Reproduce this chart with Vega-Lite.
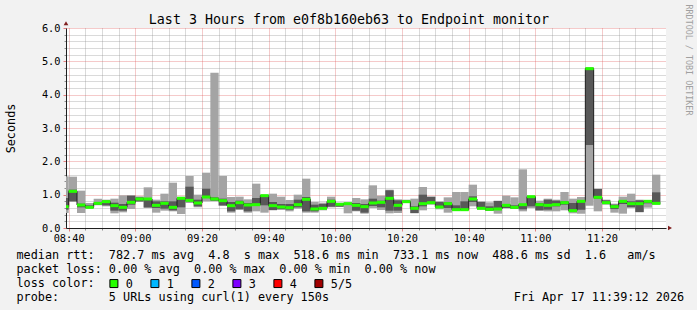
{
  "$schema": "https://vega.github.io/schema/vega-lite/v6.json",
  "width": 600,
  "height": 200,
  "autosize": {"type": "none"},
  "padding": {"left": 66, "top": 28, "right": 31, "bottom": 82},
  "background": "#f2f2f2",
  "config": {
    "font": "DejaVu Sans Mono",
    "view": {"fill": "#ffffff", "stroke": null},
    "axis": {"labelFont": "DejaVu Sans Mono", "titleFont": "DejaVu Sans Mono", "labelColor": "#000000", "titleColor": "#000000", "titleFontWeight": "normal"}
  },
  "datasets": {
    "smoke": [
      {"t": "2026-04-17T08:37:30Z", "t2": "2026-04-17T08:40:00Z", "min": 0.45, "p2": 0.55, "med": 0.64, "p4": 0.90, "max": 1.55, "loss": "0"},
      {"t": "2026-04-17T08:40:00Z", "t2": "2026-04-17T08:42:30Z", "min": 0.79, "p2": 0.80, "med": 1.10, "p4": 1.15, "max": 1.54, "loss": "0"},
      {"t": "2026-04-17T08:42:30Z", "t2": "2026-04-17T08:45:00Z", "min": 0.45, "p2": 0.62, "med": 0.69, "p4": 0.73, "max": 1.12, "loss": "0"},
      {"t": "2026-04-17T08:45:00Z", "t2": "2026-04-17T08:47:30Z", "min": 0.58, "p2": 0.60, "med": 0.62, "p4": 0.68, "max": 0.75, "loss": "0"},
      {"t": "2026-04-17T08:47:30Z", "t2": "2026-04-17T08:50:00Z", "min": 0.68, "p2": 0.70, "med": 0.74, "p4": 0.76, "max": 0.88, "loss": "0"},
      {"t": "2026-04-17T08:50:00Z", "t2": "2026-04-17T08:52:30Z", "min": 0.65, "p2": 0.68, "med": 0.79, "p4": 0.82, "max": 0.85, "loss": "0"},
      {"t": "2026-04-17T08:52:30Z", "t2": "2026-04-17T08:55:00Z", "min": 0.44, "p2": 0.52, "med": 0.67, "p4": 0.76, "max": 0.88, "loss": "0"},
      {"t": "2026-04-17T08:55:00Z", "t2": "2026-04-17T08:57:30Z", "min": 0.47, "p2": 0.52, "med": 0.62, "p4": 0.72, "max": 0.98, "loss": "0"},
      {"t": "2026-04-17T08:57:30Z", "t2": "2026-04-17T09:00:00Z", "min": 0.57, "p2": 0.70, "med": 0.77, "p4": 0.97, "max": 0.98, "loss": "0"},
      {"t": "2026-04-17T09:00:00Z", "t2": "2026-04-17T09:02:30Z", "min": 0.78, "p2": 0.80, "med": 0.87, "p4": 0.92, "max": 0.95, "loss": "0"},
      {"t": "2026-04-17T09:02:30Z", "t2": "2026-04-17T09:05:00Z", "min": 0.60, "p2": 0.62, "med": 0.87, "p4": 0.88, "max": 1.22, "loss": "0"},
      {"t": "2026-04-17T09:05:00Z", "t2": "2026-04-17T09:07:30Z", "min": 0.46, "p2": 0.60, "med": 0.68, "p4": 0.80, "max": 0.85, "loss": "0"},
      {"t": "2026-04-17T09:07:30Z", "t2": "2026-04-17T09:10:00Z", "min": 0.52, "p2": 0.58, "med": 0.74, "p4": 0.80, "max": 1.03, "loss": "0"},
      {"t": "2026-04-17T09:10:00Z", "t2": "2026-04-17T09:12:30Z", "min": 0.50, "p2": 0.53, "med": 0.62, "p4": 0.80, "max": 1.36, "loss": "0"},
      {"t": "2026-04-17T09:12:30Z", "t2": "2026-04-17T09:15:00Z", "min": 0.42, "p2": 0.62, "med": 0.89, "p4": 0.92, "max": 0.94, "loss": "0"},
      {"t": "2026-04-17T09:15:00Z", "t2": "2026-04-17T09:17:30Z", "min": 0.75, "p2": 0.80, "med": 0.83, "p4": 1.24, "max": 1.56, "loss": "0"},
      {"t": "2026-04-17T09:17:30Z", "t2": "2026-04-17T09:20:00Z", "min": 0.62, "p2": 0.65, "med": 0.75, "p4": 0.85, "max": 1.00, "loss": "0"},
      {"t": "2026-04-17T09:20:00Z", "t2": "2026-04-17T09:22:30Z", "min": 0.80, "p2": 0.90, "med": 0.93, "p4": 1.18, "max": 1.66, "loss": "0"},
      {"t": "2026-04-17T09:22:30Z", "t2": "2026-04-17T09:25:00Z", "min": 0.80, "p2": 0.82, "med": 0.87, "p4": 0.92, "max": 4.66, "loss": "0"},
      {"t": "2026-04-17T09:25:00Z", "t2": "2026-04-17T09:27:30Z", "min": 0.66, "p2": 0.68, "med": 0.82, "p4": 0.88, "max": 1.56, "loss": "0"},
      {"t": "2026-04-17T09:27:30Z", "t2": "2026-04-17T09:30:00Z", "min": 0.46, "p2": 0.50, "med": 0.67, "p4": 0.78, "max": 0.93, "loss": "0"},
      {"t": "2026-04-17T09:30:00Z", "t2": "2026-04-17T09:32:30Z", "min": 0.55, "p2": 0.56, "med": 0.76, "p4": 0.82, "max": 0.94, "loss": "0"},
      {"t": "2026-04-17T09:32:30Z", "t2": "2026-04-17T09:35:00Z", "min": 0.46, "p2": 0.50, "med": 0.69, "p4": 0.75, "max": 0.86, "loss": "0"},
      {"t": "2026-04-17T09:35:00Z", "t2": "2026-04-17T09:37:30Z", "min": 0.50, "p2": 0.68, "med": 0.70, "p4": 0.90, "max": 1.33, "loss": "0"},
      {"t": "2026-04-17T09:37:30Z", "t2": "2026-04-17T09:40:00Z", "min": 0.46, "p2": 0.68, "med": 0.97, "p4": 0.98, "max": 1.00, "loss": "0"},
      {"t": "2026-04-17T09:40:00Z", "t2": "2026-04-17T09:42:30Z", "min": 0.53, "p2": 0.54, "med": 0.67, "p4": 0.78, "max": 1.03, "loss": "0"},
      {"t": "2026-04-17T09:42:30Z", "t2": "2026-04-17T09:45:00Z", "min": 0.54, "p2": 0.57, "med": 0.63, "p4": 0.72, "max": 0.94, "loss": "0"},
      {"t": "2026-04-17T09:45:00Z", "t2": "2026-04-17T09:47:30Z", "min": 0.50, "p2": 0.55, "med": 0.61, "p4": 0.72, "max": 0.84, "loss": "0"},
      {"t": "2026-04-17T09:47:30Z", "t2": "2026-04-17T09:50:00Z", "min": 0.58, "p2": 0.62, "med": 0.70, "p4": 0.85, "max": 1.00, "loss": "0"},
      {"t": "2026-04-17T09:50:00Z", "t2": "2026-04-17T09:52:30Z", "min": 0.46, "p2": 0.50, "med": 0.86, "p4": 0.93, "max": 1.48, "loss": "0"},
      {"t": "2026-04-17T09:52:30Z", "t2": "2026-04-17T09:55:00Z", "min": 0.46, "p2": 0.50, "med": 0.57, "p4": 0.70, "max": 0.78, "loss": "0"},
      {"t": "2026-04-17T09:55:00Z", "t2": "2026-04-17T09:57:30Z", "min": 0.53, "p2": 0.57, "med": 0.59, "p4": 0.72, "max": 0.76, "loss": "0"},
      {"t": "2026-04-17T09:57:30Z", "t2": "2026-04-17T10:00:00Z", "min": 0.62, "p2": 0.64, "med": 0.80, "p4": 0.85, "max": 0.94, "loss": "0"},
      {"t": "2026-04-17T10:00:00Z", "t2": "2026-04-17T10:02:30Z", "min": 0.63, "p2": 0.64, "med": 0.71, "p4": 0.72, "max": 0.76, "loss": "0"},
      {"t": "2026-04-17T10:02:30Z", "t2": "2026-04-17T10:05:00Z", "min": 0.44, "p2": 0.72, "med": 0.73, "p4": 0.75, "max": 0.77, "loss": "0"},
      {"t": "2026-04-17T10:05:00Z", "t2": "2026-04-17T10:07:30Z", "min": 0.50, "p2": 0.52, "med": 0.68, "p4": 0.75, "max": 0.90, "loss": "0"},
      {"t": "2026-04-17T10:07:30Z", "t2": "2026-04-17T10:10:00Z", "min": 0.43, "p2": 0.46, "med": 0.64, "p4": 0.72, "max": 0.86, "loss": "0"},
      {"t": "2026-04-17T10:10:00Z", "t2": "2026-04-17T10:12:30Z", "min": 0.60, "p2": 0.66, "med": 0.75, "p4": 0.88, "max": 1.28, "loss": "0"},
      {"t": "2026-04-17T10:12:30Z", "t2": "2026-04-17T10:15:00Z", "min": 0.54, "p2": 0.62, "med": 0.77, "p4": 0.82, "max": 0.97, "loss": "0"},
      {"t": "2026-04-17T10:15:00Z", "t2": "2026-04-17T10:17:30Z", "min": 0.44, "p2": 0.52, "med": 0.89, "p4": 1.13, "max": 1.15, "loss": "0"},
      {"t": "2026-04-17T10:17:30Z", "t2": "2026-04-17T10:20:00Z", "min": 0.45, "p2": 0.52, "med": 0.68, "p4": 0.83, "max": 0.86, "loss": "0"},
      {"t": "2026-04-17T10:20:00Z", "t2": "2026-04-17T10:22:30Z", "min": 0.75, "p2": 0.77, "med": 0.79, "p4": 0.82, "max": 0.85, "loss": "0"},
      {"t": "2026-04-17T10:22:30Z", "t2": "2026-04-17T10:25:00Z", "min": 0.44, "p2": 0.45, "med": 0.59, "p4": 0.65, "max": 0.88, "loss": "0"},
      {"t": "2026-04-17T10:25:00Z", "t2": "2026-04-17T10:27:30Z", "min": 0.53, "p2": 0.65, "med": 0.73, "p4": 1.00, "max": 1.23, "loss": "0"},
      {"t": "2026-04-17T10:27:30Z", "t2": "2026-04-17T10:30:00Z", "min": 0.70, "p2": 0.72, "med": 0.76, "p4": 0.93, "max": 0.95, "loss": "0"},
      {"t": "2026-04-17T10:30:00Z", "t2": "2026-04-17T10:32:30Z", "min": 0.56, "p2": 0.60, "med": 0.63, "p4": 0.78, "max": 0.80, "loss": "0"},
      {"t": "2026-04-17T10:32:30Z", "t2": "2026-04-17T10:35:00Z", "min": 0.46, "p2": 0.60, "med": 0.73, "p4": 0.77, "max": 0.92, "loss": "0"},
      {"t": "2026-04-17T10:35:00Z", "t2": "2026-04-17T10:37:30Z", "min": 0.53, "p2": 0.53, "med": 0.55, "p4": 0.68, "max": 1.08, "loss": "0"},
      {"t": "2026-04-17T10:37:30Z", "t2": "2026-04-17T10:40:00Z", "min": 0.52, "p2": 0.53, "med": 0.55, "p4": 0.80, "max": 1.08, "loss": "0"},
      {"t": "2026-04-17T10:40:00Z", "t2": "2026-04-17T10:42:30Z", "min": 0.65, "p2": 0.78, "med": 0.87, "p4": 0.95, "max": 1.30, "loss": "0"},
      {"t": "2026-04-17T10:42:30Z", "t2": "2026-04-17T10:45:00Z", "min": 0.55, "p2": 0.57, "med": 0.59, "p4": 0.78, "max": 0.80, "loss": "0"},
      {"t": "2026-04-17T10:45:00Z", "t2": "2026-04-17T10:47:30Z", "min": 0.51, "p2": 0.52, "med": 0.56, "p4": 0.65, "max": 0.77, "loss": "0"},
      {"t": "2026-04-17T10:47:30Z", "t2": "2026-04-17T10:50:00Z", "min": 0.43, "p2": 0.55, "med": 0.57, "p4": 0.81, "max": 0.82, "loss": "0"},
      {"t": "2026-04-17T10:50:00Z", "t2": "2026-04-17T10:52:30Z", "min": 0.59, "p2": 0.60, "med": 0.68, "p4": 0.72, "max": 0.97, "loss": "0"},
      {"t": "2026-04-17T10:52:30Z", "t2": "2026-04-17T10:55:00Z", "min": 0.57, "p2": 0.58, "med": 0.62, "p4": 0.68, "max": 0.92, "loss": "0"},
      {"t": "2026-04-17T10:55:00Z", "t2": "2026-04-17T10:57:30Z", "min": 0.50, "p2": 0.56, "med": 0.70, "p4": 0.72, "max": 1.76, "loss": "0"},
      {"t": "2026-04-17T10:57:30Z", "t2": "2026-04-17T11:00:00Z", "min": 0.60, "p2": 0.65, "med": 0.94, "p4": 0.94, "max": 0.95, "loss": "0"},
      {"t": "2026-04-17T11:00:00Z", "t2": "2026-04-17T11:02:30Z", "min": 0.52, "p2": 0.53, "med": 0.70, "p4": 0.75, "max": 0.82, "loss": "0"},
      {"t": "2026-04-17T11:02:30Z", "t2": "2026-04-17T11:05:00Z", "min": 0.50, "p2": 0.55, "med": 0.68, "p4": 0.85, "max": 0.88, "loss": "0"},
      {"t": "2026-04-17T11:05:00Z", "t2": "2026-04-17T11:07:30Z", "min": 0.50, "p2": 0.65, "med": 0.70, "p4": 0.82, "max": 0.85, "loss": "0"},
      {"t": "2026-04-17T11:07:30Z", "t2": "2026-04-17T11:10:00Z", "min": 0.53, "p2": 0.70, "med": 0.76, "p4": 0.80, "max": 1.08, "loss": "0"},
      {"t": "2026-04-17T11:10:00Z", "t2": "2026-04-17T11:12:30Z", "min": 0.44, "p2": 0.50, "med": 0.52, "p4": 0.75, "max": 0.88, "loss": "0"},
      {"t": "2026-04-17T11:12:30Z", "t2": "2026-04-17T11:15:00Z", "min": 0.43, "p2": 0.55, "med": 0.80, "p4": 0.82, "max": 0.93, "loss": "0"},
      {"t": "2026-04-17T11:15:00Z", "t2": "2026-04-17T11:17:30Z", "min": 0.67, "p2": 2.49, "med": 4.78, "p4": 4.80, "max": 4.82, "loss": "0"},
      {"t": "2026-04-17T11:17:30Z", "t2": "2026-04-17T11:20:00Z", "min": 0.50, "p2": 0.88, "med": 0.92, "p4": 1.17, "max": 1.18, "loss": "0"},
      {"t": "2026-04-17T11:20:00Z", "t2": "2026-04-17T11:22:30Z", "min": 0.70, "p2": 0.72, "med": 0.76, "p4": 0.83, "max": 0.85, "loss": "0"},
      {"t": "2026-04-17T11:22:30Z", "t2": "2026-04-17T11:25:00Z", "min": 0.46, "p2": 0.57, "med": 0.64, "p4": 0.70, "max": 0.73, "loss": "0"},
      {"t": "2026-04-17T11:25:00Z", "t2": "2026-04-17T11:27:30Z", "min": 0.43, "p2": 0.72, "med": 0.80, "p4": 0.82, "max": 0.94, "loss": "0"},
      {"t": "2026-04-17T11:27:30Z", "t2": "2026-04-17T11:30:00Z", "min": 0.61, "p2": 0.62, "med": 0.73, "p4": 0.80, "max": 1.03, "loss": "0"},
      {"t": "2026-04-17T11:30:00Z", "t2": "2026-04-17T11:32:30Z", "min": 0.47, "p2": 0.48, "med": 0.73, "p4": 0.83, "max": 0.85, "loss": "0"},
      {"t": "2026-04-17T11:32:30Z", "t2": "2026-04-17T11:35:00Z", "min": 0.61, "p2": 0.74, "med": 0.80, "p4": 0.81, "max": 0.82, "loss": "0"},
      {"t": "2026-04-17T11:35:00Z", "t2": "2026-04-17T11:37:30Z", "min": 0.70, "p2": 0.72, "med": 0.74, "p4": 1.07, "max": 1.60, "loss": "0"}
    ]
  },
  "layer": [
    {
      "data": {"name": "smoke"},
      "mark": {"type": "rect", "fill": "#a4a4a4", "clip": true},
      "encoding": {
        "x": {"field": "t", "type": "temporal",
          "scale": {"type": "utc", "domain": [1776415152000, 1776425952000]},
          "axis": {"orient": "bottom", "values": [1776415500000, 1776415800000, 1776416100000, 1776416700000, 1776417000000, 1776417300000, 1776417900000, 1776418200000, 1776418500000, 1776419100000, 1776419400000, 1776419700000, 1776420300000, 1776420600000, 1776420900000, 1776421500000, 1776421800000, 1776422100000, 1776422700000, 1776423000000, 1776423300000, 1776423900000, 1776424200000, 1776424500000, 1776425100000, 1776425400000, 1776425700000], "grid": true, "gridColor": "#8f8f8f", "gridOpacity": 0.65, "gridDash": [1, 1], "labels": false, "domain": false, "ticks": true, "tickSize": 2, "tickColor": "#8f8f8f", "title": null}},
        "x2": {"field": "t2"},
        "y": {"field": "min", "type": "quantitative",
          "scale": {"domain": [0, 6], "nice": false, "zero": true},
          "axis": {"orient": "left", "values": [0.2, 0.4, 0.6, 0.8, 1.2, 1.4, 1.6, 1.8, 2.2, 2.4, 2.6, 2.8, 3.2, 3.4, 3.6, 3.8, 4.2, 4.4, 4.6, 4.8, 5.2, 5.4, 5.6, 5.8], "grid": true, "gridColor": "#8f8f8f", "gridOpacity": 0.65, "gridDash": [1, 1], "labels": false, "domain": false, "ticks": true, "tickSize": 2, "tickColor": "#8f8f8f", "title": null}},
        "y2": {"field": "max"}
      }
    },
    {
      "data": {"name": "smoke"},
      "mark": {"type": "rect", "fill": "#585858", "clip": true},
      "encoding": {
        "x": {"field": "t", "type": "temporal", "scale": {"type": "utc"},
          "axis": {"orient": "bottom", "format": "%H:%M", "values": [1776415200000, 1776416400000, 1776417600000, 1776418800000, 1776420000000, 1776421200000, 1776422400000, 1776423600000, 1776424800000], "grid": true, "gridColor": "#de4f4f", "gridOpacity": 0.6, "gridDash": [1, 1], "domain": true, "domainColor": "#1f1f1f", "domainWidth": 1, "ticks": true, "tickSize": 3, "tickColor": "#de4f4f", "tickOpacity": 0.7, "labelFontSize": 10.3, "labelPadding": 2, "labelFlush": false, "labelOverlap": false, "labelBound": false,
            "title": ["median\u00a0rtt:\u00a0\u00a0782.7\u00a0ms\u00a0avg\u00a0\u00a04.8\u00a0\u00a0s\u00a0max\u00a0\u00a0518.6\u00a0ms\u00a0min\u00a0\u00a0733.1\u00a0ms\u00a0now\u00a0\u00a0488.6\u00a0ms\u00a0sd\u00a0\u00a01.6\u00a0\u00a0\u00a0am/s",
                      "packet\u00a0loss:\u00a00.00\u00a0%\u00a0avg\u00a0\u00a00.00\u00a0%\u00a0max\u00a0\u00a00.00\u00a0%\u00a0min\u00a0\u00a00.00\u00a0%\u00a0now",
                      "loss\u00a0color:",
                      "probe:\u00a0\u00a0\u00a0\u00a0\u00a0\u00a0\u00a05\u00a0URLs\u00a0using\u00a0curl(1)\u00a0every\u00a0150s\u00a0\u00a0\u00a0\u00a0\u00a0\u00a0\u00a0\u00a0\u00a0\u00a0\u00a0\u00a0\u00a0\u00a0\u00a0\u00a0\u00a0\u00a0\u00a0\u00a0\u00a0\u00a0\u00a0\u00a0\u00a0\u00a0Fri\u00a0Apr\u00a017\u00a011:39:12\u00a02026"],
            "titleX": -50, "titleY": 21, "titleAlign": "left", "titleAnchor": "start", "titleBaseline": "top", "titleFontSize": 11.8, "titleLineHeight": 14, "titleLimit": 2000, "titleAngle": 0}},
        "x2": {"field": "t2"},
        "y": {"field": "p2", "type": "quantitative", "scale": {"domain": [0, 6], "nice": false},
          "axis": {"orient": "left", "values": [0, 1, 2, 3, 4, 5, 6], "format": ".1f", "grid": true, "gridColor": "#de4f4f", "gridOpacity": 0.6, "gridDash": [1, 1], "domain": true, "domainColor": "#1f1f1f", "domainWidth": 1, "ticks": true, "tickSize": 3, "tickColor": "#de4f4f", "tickOpacity": 0.7, "labelFontSize": 10.3, "labelPadding": 3, "labelFlush": false,
            "title": "Seconds", "titleX": -56, "titleY": 100, "titleAngle": -90, "titleAlign": "center", "titleBaseline": "middle", "titleFontSize": 11.8}},
        "y2": {"field": "p4"}
      }
    },
    {
      "data": {"name": "smoke"},
      "mark": {"type": "line", "interpolate": "step-after", "stroke": "#202020", "strokeWidth": 1, "clip": true},
      "encoding": {
        "x": {"field": "t", "type": "temporal", "scale": {"type": "utc"},
          "axis": {"orient": "top", "domain": false, "ticks": false, "labels": false, "grid": false,
            "title": "Last 3 Hours from e0f8b160eb63 to Endpoint monitor", "titleX": 282.5, "titleY": -9, "titleAlign": "center", "titleAnchor": null, "titleBaseline": "middle", "titleFontSize": 13.3, "titleAngle": 0, "titleLimit": 2000}},
        "y": {"field": "med", "type": "quantitative",
          "axis": {"orient": "right", "domain": false, "ticks": false, "labels": false, "grid": false,
            "title": "RRDTOOL / TOBI OETIKER", "titleX": 22, "titleY": -24, "titleAngle": 90, "titleAlign": "left", "titleBaseline": "middle", "titleFontSize": 8.4, "titleColor": "#a0a0a0"}}
      }
    },
    {
      "data": {"name": "smoke"},
      "mark": {"type": "rule", "strokeWidth": 3, "clip": true},
      "encoding": {
        "x": {"field": "t", "type": "temporal", "scale": {"type": "utc"}, "axis": null},
        "x2": {"field": "t2"},
        "y": {"field": "med", "type": "quantitative", "axis": null},
        "stroke": {"field": "loss", "type": "nominal",
          "scale": {"domain": ["0"], "range": ["#26ff00"]},
          "legend": null}
      }
    },
    {
      "data": {"name": "smoke"},
      "mark": {"type": "square", "filled": true, "stroke": "#000000", "strokeWidth": 1, "opacity": 0},
      "encoding": {
        "x": {"field": "t", "type": "temporal", "scale": {"type": "utc"}, "axis": null},
        "y": {"field": "med", "type": "quantitative", "axis": null},
        "fill": {"field": "loss", "type": "nominal",
          "scale": {"domain": ["0", "1", "2", "3", "4", "5/5"], "range": ["#26ff00", "#00b8ff", "#0059ff", "#7e00ff", "#ff0000", "#a10000"]},
          "legend": {"orient": "none", "legendX": 42, "legendY": 249.5, "direction": "horizontal", "columns": 6, "title": null,
            "labelFont": "DejaVu Sans Mono", "labelFontSize": 11.8, "labelColor": "#000000", "labelOffset": 6,
            "symbolType": "square", "symbolSize": 64, "symbolStrokeWidth": 1, "symbolStrokeColor": "#000000", "symbolOpacity": 1, "gridAlign": "each", "columnPadding": 15, "padding": 0}}
      }
    },
    {
      "data": {"values": [{}]},
      "mark": {"type": "point", "shape": "triangle-right", "filled": true, "fill": "#801f1f", "size": 22, "opacity": 1},
      "encoding": {
        "x": {"datum": {"year": 2026, "month": 4, "date": 17, "hours": 11, "minutes": 40, "seconds": 24, "utc": true}, "type": "temporal", "scale": {"type": "utc"}, "axis": null},
        "y": {"datum": 0, "type": "quantitative", "axis": null}
      }
    },
    {
      "data": {"values": [{}]},
      "mark": {"type": "point", "shape": "triangle-up", "filled": true, "fill": "#801f1f", "size": 22, "opacity": 1},
      "encoding": {
        "x": {"datum": {"year": 2026, "month": 4, "date": 17, "hours": 8, "minutes": 39, "seconds": 12, "utc": true}, "type": "temporal", "scale": {"type": "utc"}, "axis": null},
        "y": {"datum": 6.14, "type": "quantitative", "axis": null}
      }
    }
  ],
  "resolve": {"axis": {"x": "independent", "y": "independent"}}
}
